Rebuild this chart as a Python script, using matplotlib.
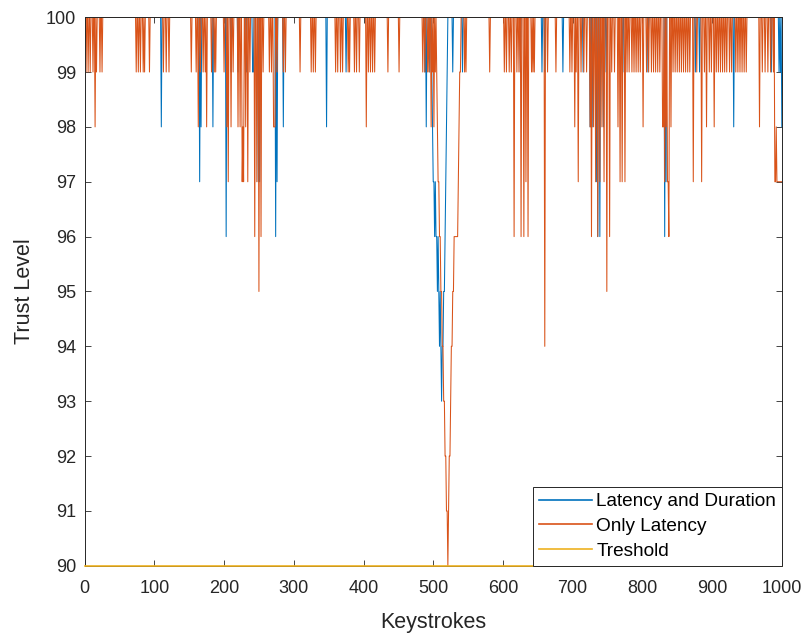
import numpy as np
import matplotlib
matplotlib.use("Agg")
import matplotlib.pyplot as plt

# keystroke -> trust level, every keystroke not listed sits at 100
latency_duration_dips = {
    110: 98, 165: 97, 167: 98, 184: 98, 203: 96, 210: 99, 220: 99, 232: 99,
    241: 99, 242: 99, 249: 97, 251: 97, 274: 96, 276: 97, 285: 98, 347: 98,
    375: 99, 488: 99, 490: 98, 495: 99,
    498: 99, 499: 98, 500: 97, 501: 97, 502: 96, 503: 97, 504: 96, 505: 96,
    506: 95, 507: 96, 508: 95, 509: 94, 510: 95, 511: 94, 512: 93, 513: 94,
    514: 94, 515: 95, 516: 95, 517: 96, 518: 97, 519: 98, 520: 99,
    528: 99, 542: 99, 625: 99, 656: 99, 660: 99, 686: 99, 715: 99, 725: 98,
    728: 98, 734: 97, 736: 96, 739: 96, 744: 98, 748: 99, 772: 99, 808: 99,
    832: 96, 834: 97, 876: 99, 882: 99, 931: 98, 985: 99, 996: 99, 998: 99,
    1000: 98,
}

only_latency_dips = {
    2: 99, 5: 99, 8: 99, 12: 99, 15: 98, 17: 99, 22: 99, 25: 99,
    74: 99, 77: 99, 80: 99, 84: 99, 86: 99, 93: 99,
    113: 99, 117: 99, 121: 99, 153: 99,
    160: 99, 163: 98, 166: 99, 170: 99, 173: 99, 175: 98,
    182: 99, 186: 99, 188: 99,
    200: 99, 204: 98, 206: 97, 210: 98, 213: 99, 220: 98, 223: 98, 226: 97,
    227: 98, 228: 97, 231: 98, 234: 97, 237: 99, 244: 96, 247: 97, 250: 95,
    253: 96, 256: 99, 265: 99, 268: 99, 271: 98, 272: 98, 273: 98, 276: 99,
    285: 99, 288: 99,
    309: 99, 325: 99, 328: 99, 331: 99,
    360: 99, 363: 99, 367: 99, 370: 99, 378: 99, 380: 99,
    387: 99, 390: 99, 394: 99, 404: 98, 407: 99, 410: 99, 413: 99, 416: 99,
    435: 99, 451: 99,
    485: 99, 488: 99, 492: 99, 494: 99, 497: 98, 499: 99, 501: 98, 503: 99,
    505: 99, 506: 98, 507: 97, 508: 97, 509: 96, 510: 96, 511: 95, 512: 95,
    513: 94, 514: 94, 515: 93, 516: 93, 517: 92, 518: 92, 519: 91, 520: 91,
    521: 90, 522: 91, 523: 92, 524: 92, 525: 93, 526: 94, 527: 94, 528: 95,
    529: 95, 530: 96, 531: 96, 532: 96, 533: 96, 534: 96, 535: 96, 536: 97,
    537: 98, 538: 99, 539: 99,
    545: 99, 547: 99, 581: 99,
    602: 99, 605: 99, 609: 99, 612: 99, 616: 96, 620: 99, 623: 99, 626: 96,
    630: 96, 633: 97, 636: 96, 641: 99, 643: 99, 645: 99,
    660: 94, 664: 99, 676: 99,
    696: 99, 699: 99, 703: 98, 705: 99, 708: 97, 712: 99, 716: 99, 720: 99,
    725: 98, 727: 96, 730: 98, 733: 97, 736: 96, 739: 97, 742: 98, 745: 97,
    749: 95, 753: 96, 756: 99, 760: 99, 765: 98, 768: 97, 771: 97, 775: 97,
    778: 99, 781: 99, 785: 99, 788: 99, 791: 99, 794: 99, 797: 99, 801: 98,
    806: 99, 809: 99, 813: 99, 816: 99, 819: 99, 822: 99, 825: 99,
    829: 98, 830: 98, 832: 97, 834: 98, 836: 97, 837: 97, 838: 96, 841: 98,
    844: 99, 847: 99, 850: 99, 853: 99, 856: 99, 859: 99, 862: 99, 865: 99,
    868: 99, 873: 97, 878: 99, 885: 97, 889: 99, 892: 98, 896: 99, 899: 99,
    903: 98, 906: 99, 909: 99, 912: 99, 915: 99, 918: 99, 921: 99, 925: 99,
    928: 99, 934: 99, 937: 99, 940: 99, 943: 99, 946: 99, 949: 99,
    968: 98, 972: 99, 976: 99, 980: 99, 984: 99, 988: 99,
    990: 97, 991: 97, 992: 98, 993: 97, 994: 97, 995: 97, 996: 97, 997: 97,
    998: 97, 999: 97, 1000: 97,
}

threshold = 90
keystrokes = np.arange(1, 1001)

lat_dur = np.full(keystrokes.size, 100.0)
for k, v in latency_duration_dips.items():
    lat_dur[k - 1] = v

only_lat = np.full(keystrokes.size, 100.0)
for k, v in only_latency_dips.items():
    only_lat[k - 1] = v

plt.rcParams['font.family'] = ['Liberation Sans', 'DejaVu Sans']

fig = plt.figure(figsize=(8.06, 6.35), dpi=100)
ax = fig.add_axes([0.105, 0.109, 0.865, 0.864])

ax.plot(keystrokes, lat_dur, color='#0072BD', lw=0.75, label='Latency and Duration')
ax.plot(keystrokes, only_lat, color='#D95319', lw=0.75, label='Only Latency')
ax.plot([0, 1000], [threshold, threshold], color='#EDB120', lw=1.2,
        label='Treshold', clip_on=False, zorder=3)

ax.set_xlim(0, 1000)
ax.set_ylim(90, 100)
ax.set_xticks(np.arange(0, 1001, 100))
ax.set_yticks(np.arange(90, 101, 1))
ax.tick_params(direction='in', top=True, right=True, length=4,
               labelsize=13, color='#262626', labelcolor='#262626', width=0.6)
ax.tick_params(axis='x', pad=10)
ax.tick_params(axis='y', pad=6)
for s in ax.spines.values():
    s.set_color('#262626')
    s.set_linewidth(0.7)

ax.set_xlabel('Keystrokes', fontsize=15.5, color='#262626', labelpad=11)
ax.set_ylabel('Trust Level', fontsize=15.5, color='#262626', labelpad=8)

leg = ax.legend(loc='lower right', bbox_to_anchor=(1, 0), borderaxespad=0,
                fontsize=13.7, fancybox=False, framealpha=1, edgecolor='#262626',
                handlelength=2.8, handletextpad=0.2, labelspacing=0.4,
                borderpad=0.3)
leg.get_frame().set_linewidth(0.7)
for line in leg.get_lines():
    line.set_linewidth(1.2)

fig.savefig('out.png', dpi=100)
